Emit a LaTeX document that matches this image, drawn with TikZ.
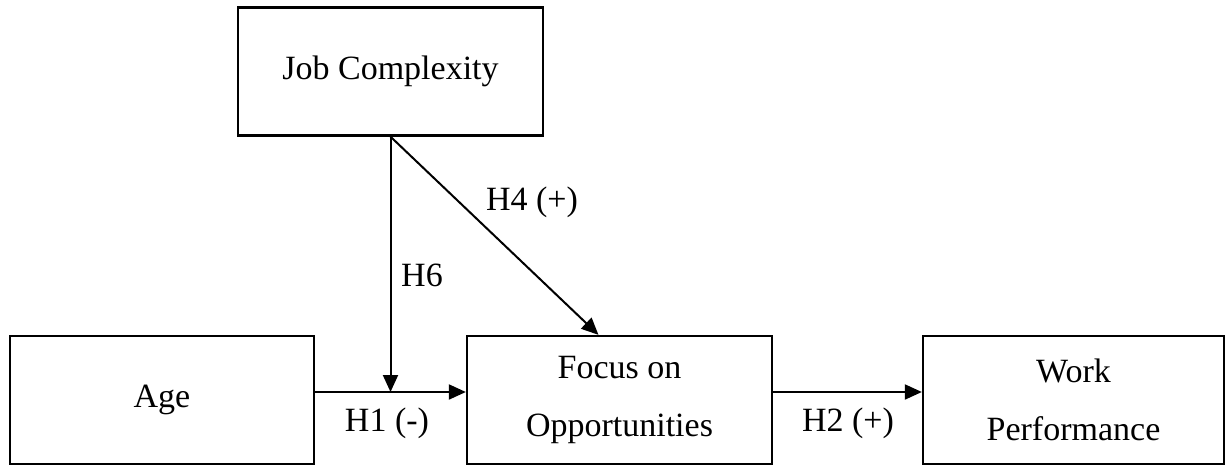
\documentclass[tikz,border=0pt]{standalone}
\usepackage{fontspec}
\setmainfont{Liberation Serif}
\usetikzlibrary{arrows.meta, positioning}

\begin{document}
\begin{tikzpicture}[x=0.5pt, y=-0.5pt,
    box/.style={draw, line width=1.15pt, minimum height=64pt, inner sep=0pt, align=center,
      font=\fontsize{17}{29}\selectfont},
    link/.style={line width=1pt, -{Triangle[length=8.5pt, width=7.5pt]}},
    hlabel/.style={font=\fontsize{17}{20}\selectfont}]
            \useasboundingbox (0,0) rectangle (1227,466);
            \node[box, minimum width=152.5pt] (job) at (390.5,71.5) {Job Complexity};
            \node[box, minimum width=152pt] (age) at (162,400) {Age};
            \node[box, minimum width=152.5pt] (focus) at (619.5,400) {Focus on\\Opportunities};
            \node[box, minimum width=150.5pt] (work) at (1073.5,400) {Work\\Performance};
            \coordinate (a1) at ([yshift=4pt]age.east);
            \draw[link] (a1) -- ([yshift=4pt]focus.west);
            \draw[link] ([yshift=4pt]focus.east) -- ([yshift=4pt]work.west);
            \draw[link] (job.south) -- (job.south |- a1);
            \draw[link] (job.south) -- ([xshift=-10.5pt]focus.north);
            \node[hlabel] (h1) at (387,423) {H1 (-)};
            \node[hlabel] (h2) at (848,423) {H2 (+)};
            \node[hlabel] (h4) at (532,202) {H4 (+)};
            \node[hlabel] (h6) at (422,275) {H6};
          \end{tikzpicture}
\end{document}
